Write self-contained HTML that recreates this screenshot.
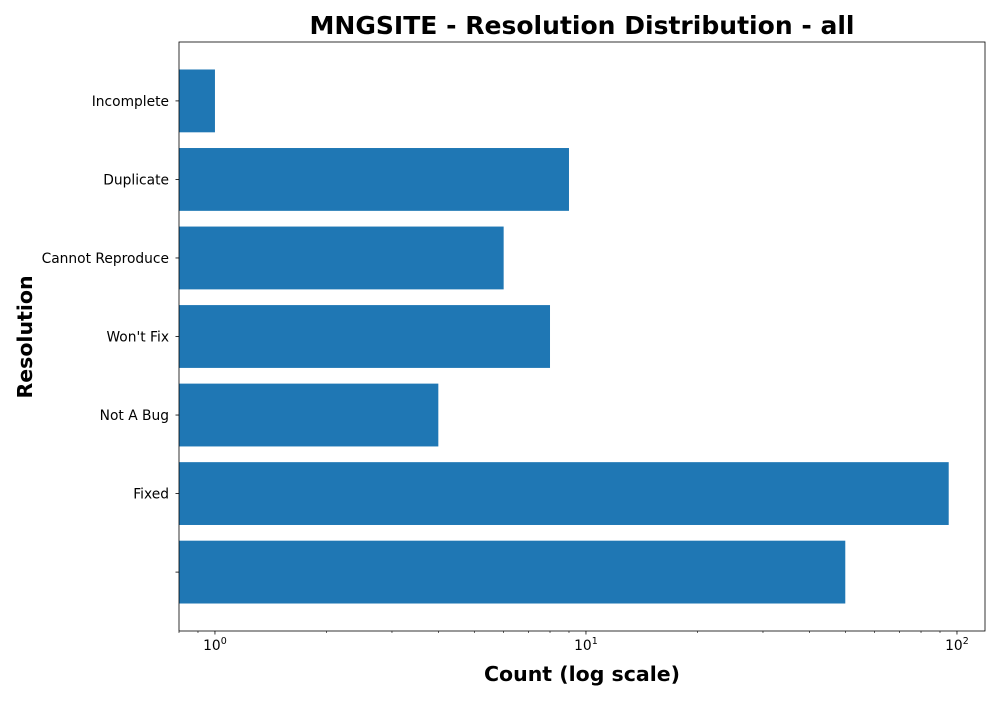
<!DOCTYPE html>
<html><head><meta charset="utf-8"><style>
body{margin:0;background:#fff;font-family:"Liberation Sans","DejaVu Sans",sans-serif;}
</style></head><body>
<svg width="1000" height="700" xmlns="http://www.w3.org/2000/svg" font-family="DejaVu Sans, Liberation Sans, sans-serif">
<text x="582" y="34" text-anchor="middle" font-size="25" font-weight="bold" textLength="545" lengthAdjust="spacingAndGlyphs">MNGSITE - Resolution Distribution - all</text>
<g id="plot"></g>
<text x="582" y="681" text-anchor="middle" font-size="20.5" font-weight="bold">Count (log scale)</text>
<text transform="translate(32,337) rotate(-90)" text-anchor="middle" font-size="20.5" font-weight="bold">Resolution</text>
</svg>
<script>
const categories=["","Fixed","Not A Bug","Won't Fix","Cannot Reproduce","Duplicate","Incomplete"];
const counts=[50,95,4,8,6,9,1];
const tickExps=[0,1,2];
const L=179,R=985,T=42,B=631,xmin=0.8,xmax=119;
const x=v=>L+(Math.log10(v)-Math.log10(xmin))/(Math.log10(xmax)-Math.log10(xmin))*(R-L);
const step=(B-T)/7.5;
const y=i=>B-step*(0.75+i);
const g=document.getElementById('plot');
const NS="http://www.w3.org/2000/svg";
function mk(t,a,p){const e=document.createElementNS(NS,t);for(const k in a)e.setAttribute(k,a[k]);(p||g).appendChild(e);return e;}
categories.forEach((c,i)=>{
 const r=mk('rect',{x:L,y:y(i)-step*0.4,width:Math.max(0,x(counts[i])-L),height:step*0.8,fill:'#1f77b4'});
 
 
 mk('line',{x1:L-3.5,x2:L,y1:y(i),y2:y(i),stroke:'#000','stroke-width':0.8});
 const t=mk('text',{x:L-10,y:y(i)+5,'text-anchor':'end','font-size':13.8});
 t.textContent=c;
 
 
});
for(let e=-1;e<=2;e++)for(let m=2;m<=9;m++){const v=m*Math.pow(10,e);if(v<xmin||v>xmax)continue;
 mk('line',{x1:x(v),x2:x(v),y1:B,y2:B+2,stroke:'#000','stroke-width':0.6});}
tickExps.forEach(e=>{const xv=x(Math.pow(10,e));
 mk('line',{x1:xv,x2:xv,y1:B,y2:B+3.5,stroke:'#000','stroke-width':0.8});
 const t=mk('text',{x:xv,y:B+19,'text-anchor':'middle','font-size':13.8});
 
 
 t.textContent='10';
 const s=mk('tspan',{dy:-6,'font-size':9.5},t);s.textContent=e;
});
const f=mk('rect',{x:L,y:T,width:R-L,height:B-T,fill:'none',stroke:'#000','stroke-width':0.8});


</script>
</body></html>
